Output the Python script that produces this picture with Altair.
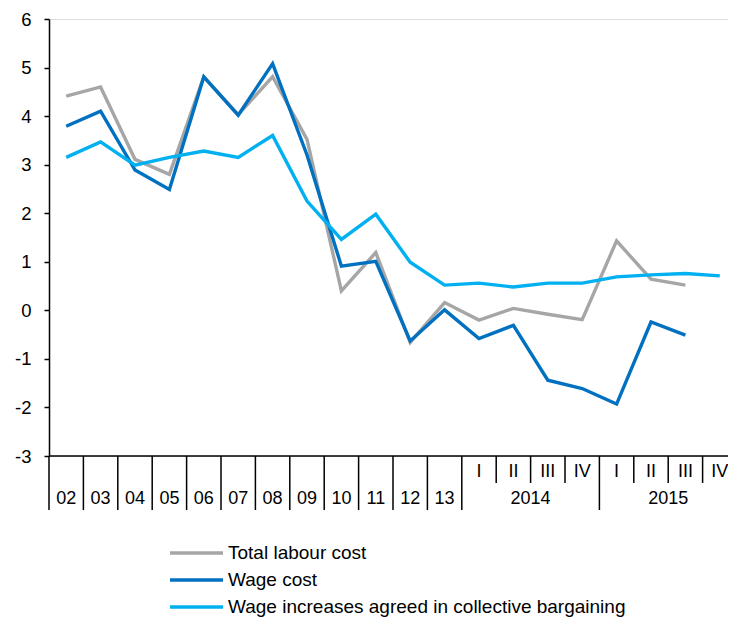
import altair as alt
import pandas as pd

# ---- data ----
categories = ["02", "03", "04", "05", "06", "07", "08", "09", "10", "11", "12", "13",
              "2014 I", "2014 II", "2014 III", "2014 IV",
              "2015 I", "2015 II", "2015 III", "2015 IV"]
quarter_labels = ["", "", "", "", "", "", "", "", "", "", "", "",
                  "I", "II", "III", "IV", "I", "II", "III", "IV"]
year_labels = ["02", "03", "04", "05", "06", "07", "08", "09", "10", "11", "12", "13"]
year_groups = ["2014", "2015"]

total_labour_cost = [4.41, 4.60, 3.11, 2.80, 4.81, 4.03, 4.81, 3.52, 0.40, 1.19, -0.66, 0.16,
                     -0.20, 0.04, -0.08, -0.19, 1.43, 0.64, 0.52, None]
wage_cost = [3.79, 4.10, 2.89, 2.49, 4.81, 4.02, 5.08, 3.20, 0.91, 1.01, -0.63, 0.01,
             -0.58, -0.31, -1.44, -1.61, -1.93, -0.24, -0.51, None]
collective = [3.15, 3.47, 2.99, 3.15, 3.28, 3.15, 3.60, 2.25, 1.46, 1.98, 0.99, 0.52,
              0.56, 0.48, 0.56, 0.56, 0.69, 0.73, 0.76, 0.71]

series_names = ["Total labour cost", "Wage cost", "Wage increases agreed in collective bargaining"]
series_colors = ["#A6A6A6", "#0070C0", "#00B0F0"]

# ---- tables ----
rows = []
for name, vals in zip(series_names, [total_labour_cost, wage_cost, collective]):
    for i, v in enumerate(vals):
        if v is not None:
            rows.append({"series": name, "pos": i + 0.5, "value": v, "cat": categories[i]})
df = pd.DataFrame(rows)

W, H = 679, 437
FONT = "Liberation Sans"
n = len(categories)
band = 34.4            # px per category
xdom = W / band
YMIN, YMAX = -3, 6
upx = H / (YMAX - YMIN)  # px per y unit


def ypx(offset):
    """y value lying `offset` px below the bottom of the plot area."""
    return YMIN - offset / upx


def xpx(px):
    return px / band


color_scale = alt.Scale(domain=series_names, range=series_colors)
xs = alt.Scale(domain=[0, xdom], nice=False, zero=False)
ys = alt.Scale(domain=[YMIN, YMAX], nice=False, zero=False)

lines = alt.Chart(df).mark_line(strokeWidth=3.4, clip=False).encode(
    x=alt.X("pos:Q", scale=xs, axis=None),
    y=alt.Y("value:Q", scale=ys,
            axis=alt.Axis(values=list(range(-3, 7)), title=None, grid=False,
                          domainColor="black", domainWidth=1.5, tickColor="black",
                          tickWidth=1.5, tickSize=5, labelFont=FONT, labelFontSize=18.5,
                          labelColor="black", labelPadding=13,
                          labelExpr="'' + datum.value")),
    color=alt.Color("series:N", scale=color_scale, legend=None),
    detail="series:N",
)

# horizontal baseline at y = -3
base_df = pd.DataFrame({"x0": [0.0], "x1": [xdom], "y": [YMIN]})
baseline = alt.Chart(base_df).mark_rule(color="black", strokeWidth=1.5).encode(
    x=alt.X("x0:Q", scale=xs, axis=None), x2="x1:Q", y=alt.Y("y:Q", scale=ys))

# separators below the axis
full_bounds = list(range(0, 13)) + [16]
short_bounds = [13, 14, 15, 17, 18, 19]
sep_rows = [{"b": b, "y0": ypx(0), "y1": ypx(54)} for b in full_bounds] + \
           [{"b": b, "y0": ypx(0), "y1": ypx(27)} for b in short_bounds]
sep_df = pd.DataFrame(sep_rows)
seps = alt.Chart(sep_df).mark_rule(color="black", strokeWidth=1.5).encode(
    x=alt.X("b:Q", scale=xs, axis=None),
    y=alt.Y("y0:Q", scale=ys), y2="y1:Q")

# labels
q_df = pd.DataFrame({"pos": [i + 0.5 for i in range(n) if quarter_labels[i]],
                     "lab": [q for q in quarter_labels if q], "py": ypx(16)})
y_df = pd.DataFrame({"pos": [i + 0.5 for i in range(len(year_labels))] + [14.0, 18.0],
                     "lab": year_labels + year_groups, "py": ypx(43)})
lab_df = pd.concat([q_df, y_df], ignore_index=True)
labels = alt.Chart(lab_df).mark_text(font=FONT, fontSize=18, color="black",
                                     baseline="middle", align="center").encode(
    x=alt.X("pos:Q", scale=xs, axis=None), y=alt.Y("py:Q", scale=ys), text="lab:N")

# manual legend
leg_df = pd.DataFrame({"series": series_names, "row": [0, 1, 2]})
leg_df["py"] = [ypx(97 + r * 27) for r in leg_df["row"]]
leg_df["x0"] = xpx(121)
leg_df["x1"] = xpx(174)
leg_df["tx"] = xpx(179)
leg_lines = alt.Chart(leg_df).mark_rule(strokeWidth=3.4).encode(
    x=alt.X("x0:Q", scale=xs, axis=None), x2="x1:Q", y=alt.Y("py:Q", scale=ys),
    color=alt.Color("series:N", scale=color_scale, legend=None))
leg_text = alt.Chart(leg_df).mark_text(font=FONT, fontSize=19, color="black",
                                       align="left", baseline="middle").encode(
    x=alt.X("tx:Q", scale=xs, axis=None), y=alt.Y("py:Q", scale=ys), text="series:N")

chart = alt.layer(baseline, seps, labels, lines, leg_lines, leg_text).properties(
    width=W, height=H,
    autosize=alt.AutoSizeParams(type="none"),
    padding={"left": 41, "top": 11, "right": 0, "bottom": 161},
).configure_view(stroke=None).configure(background="white")

chart.save("out.html", embed_options={"renderer": "svg", "actions": False})
